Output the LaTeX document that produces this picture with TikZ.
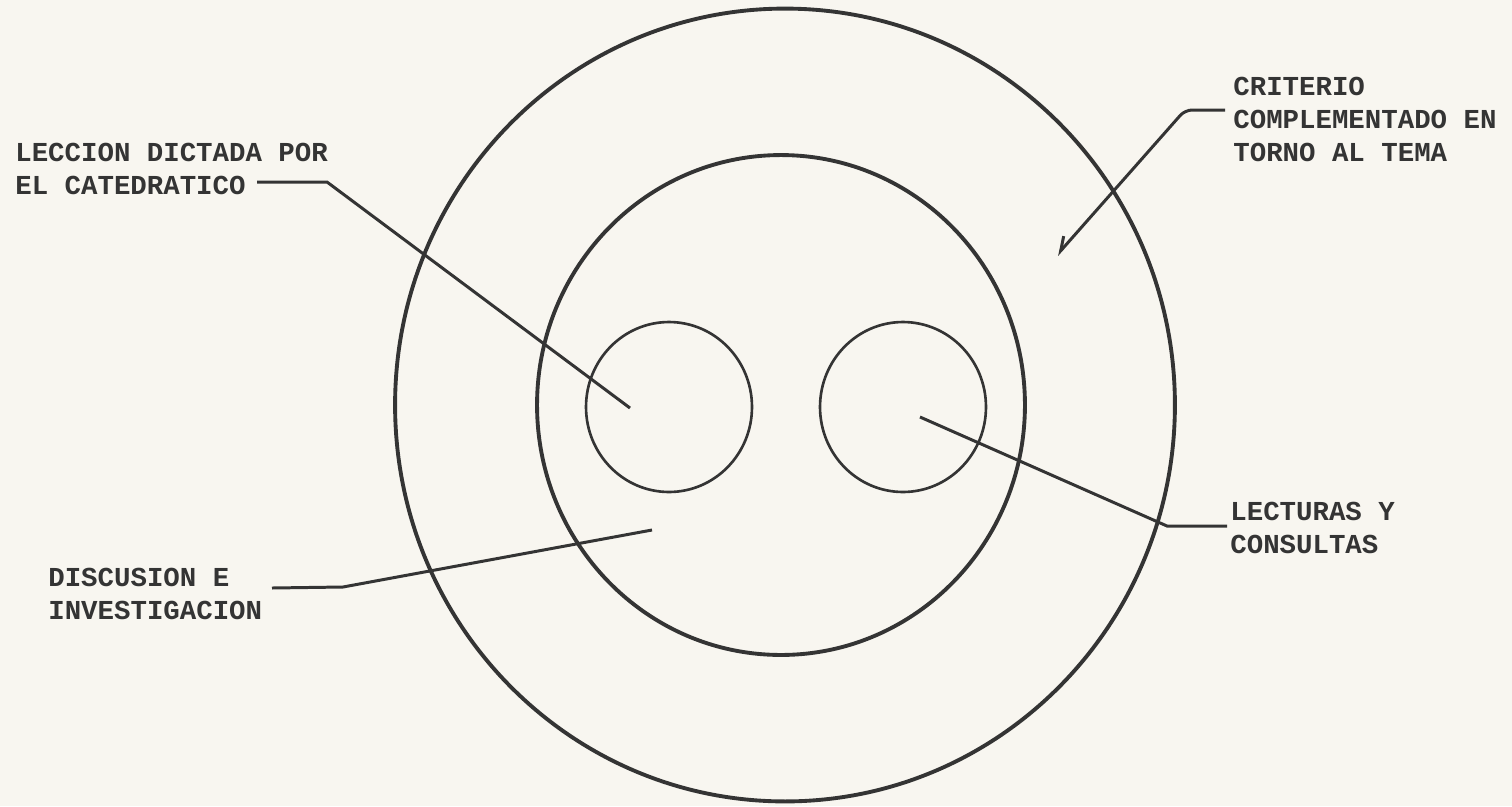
\documentclass[tikz,border=0pt]{standalone}
\usepackage{fontspec}
\setmonofont{Liberation Mono}
\usetikzlibrary{shapes.geometric,arrows.meta}
\definecolor{paper}{RGB}{248,246,240}
\definecolor{ink}{RGB}{52,52,52}

\begin{document}
\begin{tikzpicture}[x=0.02cm, y=-0.02cm,
    ring/.style={ellipse, draw=ink, line width=2.2pt, inner sep=0pt},
    cell/.style={ellipse, draw=ink, line width=1.5pt, inner sep=0pt, minimum width=3.32cm, minimum height=3.4cm},
    tag/.style={anchor=north west, inner sep=0pt, align=left, text=ink, font=\ttfamily\bfseries\fontsize{15.6}{18.8}\selectfont},
    lead/.style={draw=ink, line width=1.7pt}
    ]
    \fill[paper] (0,0) rectangle (1512,806);
    \useasboundingbox (0,0) rectangle (1512,806);

    % circles
    \node[ring, minimum width=15.6cm, minimum height=15.86cm] (outer) at (785,405) {};
    \node[ring, minimum width=9.76cm, minimum height=10cm] (mid) at (781,405) {};
    \node[cell] (left) at (669,407) {};
    \node[cell] (right) at (903,407) {};

    % labels
    \node[tag] (leccion) at (15,143) {LECCION DICTADA POR\\EL CATEDRATICO};
    \node[tag] (criterio) at (1233,77) {CRITERIO\\COMPLEMENTADO EN\\TORNO AL TEMA};
    \node[tag] (lecturas) at (1230,502) {LECTURAS Y\\CONSULTAS};
    \node[tag] (discusion) at (48,568) {DISCUSION E\\INVESTIGACION};

    % leader ends
    \coordinate (l0) at (257,182);
    \coordinate (l1) at (327,182);
    \coordinate (l2) at (630,408);
    \coordinate (c0) at (1225,110);
    \coordinate (c1) at (1185,110);
    \coordinate (c2) at (1057,255);
    \coordinate (r0) at (1227,526);
    \coordinate (r1) at (1167,526);
    \coordinate (r2) at (920,417);
    \coordinate (d0) at (272,588);
    \coordinate (d1) at (343,587);
    \coordinate (d2) at (652,530);

 \draw [lead] (l0) -- (l1) -- (l2);
 \draw [lead, rounded corners=4pt, -{Straight Barb[right, length=2.6mm, width=3mm]}] (c0) -- (c1) -- (c2);
 \draw [lead] (r0) -- (r1) -- (r2);
 \draw [lead] (d0) -- (d1) -- (d2);

\end{tikzpicture}
\end{document}
